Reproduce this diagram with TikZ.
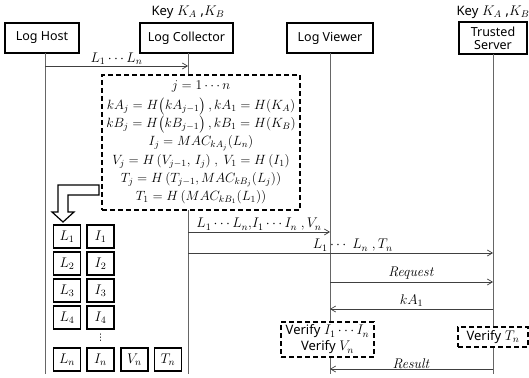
\documentclass[tikz,border=0pt]{standalone}
\usepackage{fix-cm}
\usepackage{amsmath}
\usepackage[no-math]{fontspec}
\setmainfont{Noto Sans}
\newfontfamily\djv{DejaVu Sans}
\usetikzlibrary{arrows.meta}
\newcommand{\txt}[1]{{\fontsize{13}{13}\selectfont #1}}
\begin{document}
\begin{tikzpicture}[x=1pt,y=-1pt,
  actor/.style={draw, line width=1.2pt, minimum height=30pt, inner sep=1pt, align=center, font=\fontsize{12.5}{13}\selectfont},
  lifeline/.style={draw=black!60, line width=0.8pt},
  msg/.style={draw=black!75, line width=0.7pt, -{Straight Barb[length=5pt,width=6pt]}},
  lbl/.style={font=\fontsize{14}{15}\selectfont, inner sep=1pt},
  dbox/.style={draw, line width=1.2pt, dash pattern=on 5pt off 3pt, fill=white},
  cell/.style={draw, line width=1.1pt, minimum width=27pt, minimum height=23pt, inner sep=0pt, font=\fontsize{14}{15}\selectfont},
  keylbl/.style={font=\fontsize{14}{15}\selectfont, inner sep=0pt}]
\useasboundingbox (0,0) rectangle (529,377);

% actors
\node[actor, minimum width=74pt] (host) at (42,38) {Log Host};
\node[actor, minimum width=93pt] (coll) at (186.5,38) {Log Collector};
\node[actor, minimum width=86pt] (view) at (330,38) {Log Viewer};
\node[actor, minimum width=68pt, minimum height=32pt] (trust) at (493,38) {Trusted\\Server};
\node[keylbl] (keyC) at (188,12) {\txt{Key} $K_A$ ,$K_B$};
\node[keylbl] (keyT) at (493,12) {\txt{Key} $K_A$ ,$K_B$};

% lifelines
\coordinate (hT) at (45,53);  \coordinate (hB) at (45,374);
\coordinate (cT) at (188,53); \coordinate (cB) at (188,374);
\coordinate (vT) at (330,53); \coordinate (vB) at (330,374);
\coordinate (tT) at (493,54); \coordinate (tB) at (493,374);
\draw[lifeline] (hT) -- (hB);
\draw[lifeline] (cT) -- (cB);
\draw[lifeline] (vT) -- (vB);
\draw[lifeline] (tT) -- (tB);

% message 1
\coordinate (m1a) at (45,66); \coordinate (m1b) at (188,66);
\draw[msg] (m1a) -- node[lbl, above] {$L_1 \cdots L_n$} (m1b);

% computation box
\node[dbox, minimum width=198pt, minimum height=135pt, inner sep=0pt, align=center,
      font=\fontsize{13.4}{18.2}\selectfont] (comp) at (201,142.5)
 {$j = 1 \cdots n$\\[1.5pt]
  $kA_j = H\big(kA_{j-1}\big)\,,kA_1 = H(K_A)$\\
  $kB_j = H\big(kB_{j-1}\big)\,,kB_1 = H(K_B)$\\
  $I_j = MAC_{kA_j}(L_n)$\\
  $V_j = H\,(V_{j-1},\, I_j)\ ,\ V_1 = H\,(I_1)$\\
  $T_j = H\,(T_{j-1},MAC_{kB_j}(L_j))$\\
  $T_1 = H\,(MAC_{kB_1}(L_1))$};

% block arrow
\draw[line width=1.2pt, fill=white] (99,185) -- (58,185) -- (58,212) -- (52,212) -- (63,222)
  -- (74,212) -- (68,212) -- (68,195) -- (99,195) -- cycle;

% storage cells
\node[cell] (L1) at (67,236.5) {$L_1$};
\node[cell] (I1) at (100.5,236.5) {$I_1$};
\node[cell] (L2) at (67,263.5) {$L_2$};
\node[cell] (I2) at (100.5,263.5) {$I_2$};
\node[cell] (L3) at (67,290.5) {$L_3$};
\node[cell] (I3) at (100.5,290.5) {$I_3$};
\node[cell] (L4) at (67,317.5) {$L_4$};
\node[cell] (I4) at (100.5,317.5) {$I_4$};
\node[inner sep=0pt, font=\djv\fontsize{9}{9}\selectfont] (dots) at (100.5,338) {⋮};
\node[cell] (Ln) at (67,359.5) {$L_n$};
\node[cell] (In) at (100.5,359.5) {$I_n$};
\node[cell] (Vn) at (134.5,359.5) {$V_n$};
\node[cell] (Tn) at (168,359.5) {$T_n$};

% messages
\coordinate (m2a) at (188,232); \coordinate (m2b) at (330,232);
\draw[msg] (m2a) -- node[lbl, above] {$L_1 \cdots L_n{,}I_1 \cdots I_n\ , V_n$} (m2b);
\coordinate (m3a) at (188,253); \coordinate (m3b) at (493,253);
\draw[msg] (m3a) -- node[lbl, above, pos=0.54] {$L_1 \cdots\ L_n\ , T_n$} (m3b);
\coordinate (m4a) at (330,282); \coordinate (m4b) at (493,282);
\draw[msg] (m4a) -- node[lbl, above, yshift=1pt] {$\mathit{Request}$} (m4b);
\coordinate (m5a) at (493,309); \coordinate (m5b) at (330,309);
\draw[msg] (m5a) -- node[lbl, above, yshift=1pt] {$kA_1$} (m5b);
\coordinate (m6a) at (493,369); \coordinate (m6b) at (330,369);

% verification boxes
\node[dbox, minimum width=93pt, minimum height=35pt, inner sep=0pt, align=center,
      font=\fontsize{14}{16}\selectfont] (verV) at (327.5,339.5)
 {\txt{Verify} $I_1 \cdots I_n$\\\txt{Verify} $V_n$};
\node[dbox, minimum width=70pt, minimum height=20pt, inner sep=0pt,
      font=\fontsize{14}{15}\selectfont] (verT) at (493,337) {\txt{Verify} $T_n$};

\draw[msg] (m6a) -- node[lbl, above, inner sep=0.5pt] {$\mathit{Result}$} (m6b);
\end{tikzpicture}
\end{document}
